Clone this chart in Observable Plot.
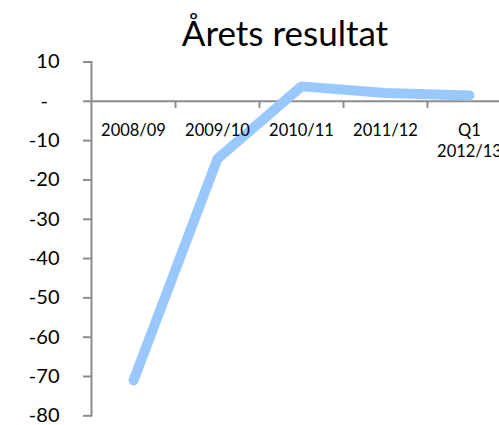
<!DOCTYPE html>
<html>
<head>
<meta charset="utf-8">
<script src="https://cdn.jsdelivr.net/npm/d3@7"></script>
<script src="https://cdn.jsdelivr.net/npm/@observablehq/plot@0.6"></script>
<style>
  html, body { margin: 0; padding: 0; background: #fff; overflow: hidden; width: 499px; height: 425px; }
  #title { box-sizing: border-box; height: 52px; padding-top: 15px; padding-left: 71px; text-align: center; font-family: Lato, sans-serif; font-size: 35px; line-height: 35px; color: #000; white-space: nowrap; }
  #chart svg { display: block; overflow: visible; }
</style>
</head>
<body>
<div id="title">Årets resultat</div>
<div id="chart"></div>
<script>
const categories = ["2008/09", "2009/10", "2010/11", "2011/12", "Q1\n2012/13"];
const values = [-71, -14.6, 3.8, 2.1, 1.5];
const yTicks = [10, 0, -10, -20, -30, -40, -50, -60, -70, -80];

const data = categories.map((c, i) => ({cat: c, value: values[i]}));
const axisColor = "#8c8c8c";

const chart = Plot.plot({
  width: 499,
  height: 373,
  marginLeft: 91,
  marginRight: -12,
  marginTop: 9.5,
  marginBottom: 9.7,
  style: {fontFamily: "Lato, sans-serif", color: "#000", background: "#fff"},
  x: {type: "point", domain: categories, padding: 0.5, axis: null},
  y: {domain: [-80, 10], axis: null},
  marks: [
    Plot.frame({anchor: "left", stroke: axisColor, strokeWidth: 2}),
    Plot.ruleY([0], {stroke: axisColor, strokeWidth: 2}),
    Plot.ruleX(categories.slice(1), {x: d => d, y1: 0, y2: -1.8, dx: -42, stroke: axisColor, strokeWidth: 2}),
    Plot.axisY({
      ticks: yTicks,
      tickSize: 8,
      tickPadding: 24,
      stroke: axisColor,
      strokeWidth: 2,
      strokeOpacity: 1,
      fontSize: 20,
      tickFormat: d => d === 0 ? "-\u2007" : d3.format("d")(d).replace("−", "-"),
      label: null
    }),
    Plot.line(data, {x: "cat", y: "value", stroke: "#99c8ff", strokeWidth: 10, strokeLinecap: "round", strokeLinejoin: "miter"}),
    Plot.text(data, {x: "cat", y: () => 0, text: "cat", lineAnchor: "top", dy: 20, fontSize: 16.5, lineHeight: 1.25, fill: "#000"})
  ]
});
document.getElementById("chart").appendChild(chart);
</script>
</body>
</html>
